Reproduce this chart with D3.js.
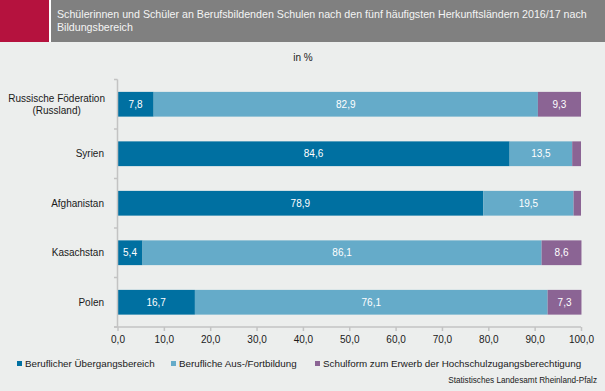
<!DOCTYPE html>
<html><head><meta charset="utf-8">
<script src="https://cdn.jsdelivr.net/npm/d3@7"></script>
<style>
html,body{margin:0;padding:0;background:#eceeed;}
svg{display:block;font-family:"Liberation Sans",Arial,sans-serif;}
</style></head>
<body>
<svg id="chart" width="605" height="391"></svg>
<script>
const categories = [["Russische Föderation","(Russland)"],["Syrien"],["Afghanistan"],["Kasachstan"],["Polen"]];
const categoryKeys = ["Russland","Syrien","Afghanistan","Kasachstan","Polen"];
const seriesNames = ["Beruflicher Übergangsbereich","Berufliche Aus-/Fortbildung","Schulform zum Erwerb der Hochschulzugangsberechtigung"];
const uebergang = [7.8, 84.6, 78.9, 5.4, 16.7];
const ausbildung = [82.9, 13.5, 19.5, 86.1, 76.1];
const hochschul = [9.3, 1.9, 1.6, 8.6, 7.3];
const showLabel = [[true,true,true],[true,true,false],[true,true,false],[true,true,true],[true,true,true]];
const xTicks = [0,10,20,30,40,50,60,70,80,90,100];
const colors = ["#0070a1","#65abc9","#8b6494"];
const titleLines = ["Schülerinnen und Schüler an Berufsbildenden Schulen nach den fünf häufigsten Herkunftsländern 2016/17 nach","Bildungsbereich"];
const unitLabel = "in %";
const sourceLabel = "Statistisches Landesamt Rheinland-Pfalz";

const svg = d3.select("#chart");
svg.append("rect").attr("width",605).attr("height",391).attr("fill","#eceeed");
// header
svg.append("rect").attr("x",0).attr("y",0).attr("width",605).attr("height",42).attr("fill","#808080");
svg.append("rect").attr("x",0).attr("y",0).attr("width",49).attr("height",42).attr("fill","#b5123e");
svg.append("rect").attr("x",49).attr("y",0).attr("width",2).attr("height",42).attr("fill","#ffffff");
const tNodes = titleLines.map((t,i)=>svg.append("text").attr("x",57).attr("y",18+i*12.5).attr("fill","#f4f4f4")
    .style("font-size","11.3px").text(t));
const w0 = tNodes[0].node().getComputedTextLength();
const fs = Math.min(11.3, 11.3 * 530 / w0);
tNodes.forEach(n=>n.style("font-size", fs+"px"));
svg.append("text").attr("x",303).attr("y",61).attr("text-anchor","middle")
  .attr("fill","#1a1a1a").style("font-size","10px").text(unitLabel);

const x = d3.scaleLinear().domain([0,100]).range([117.5,581]);
const y = d3.scaleBand().domain(categoryKeys).range([79.5,327]).paddingInner(0.5).paddingOuter(0.25);

const stackData = categoryKeys.map((k,i)=>({key:k, s0:uebergang[i], s1:ausbildung[i], s2:hochschul[i], idx:i}));
const stack = d3.stack().keys(["s0","s1","s2"]);
const series = stack(stackData);

const g = svg.append("g");
series.forEach((s,si)=>{
  g.selectAll(null).data(s).enter().append("rect")
    .attr("x",d=>x(d[0])).attr("width",d=>x(d[1])-x(d[0]))
    .attr("y",d=>y(d.data.key)).attr("height",y.bandwidth())
    .attr("fill",colors[si]);
  g.selectAll(null).data(s.filter(d=>showLabel[d.data.idx][si])).enter().append("text")
    .attr("x",d=>(x(d[0])+x(d[1]))/2).attr("y",d=>y(d.data.key)+y.bandwidth()/2+3.6)
    .attr("text-anchor","middle").attr("fill","#ffffff").style("font-size","10px")
    .text(d=>d3.format(".1f")(d[1]-d[0]).replace(".",","));
});

// y axis
const axisColor = "#c3c3c3";
const yStep = y.step();
svg.append("line").attr("x1",117.5).attr("x2",117.5).attr("y1",79.5).attr("y2",327).attr("stroke",axisColor).attr("stroke-width",1.5);
d3.range(categoryKeys.length+1).forEach(i=>{
  const yy = 79.5 + i*yStep;
  svg.append("line").attr("x1",114).attr("x2",117.5).attr("y1",yy).attr("y2",yy).attr("stroke",axisColor).attr("stroke-width",1.5);
});
// category labels
categories.forEach((lines,i)=>{
  const cy = y(categoryKeys[i]) + y.bandwidth()/2;
  if(lines.length===1){
    svg.append("text").attr("x",104).attr("y",cy+3.6).attr("text-anchor","end")
      .attr("fill","#1a1a1a").style("font-size","10px").text(lines[0]);
  } else {
    const tmp = lines.map((l,j)=>svg.append("text").attr("y",cy-5.75+3.6+j*11.5).attr("fill","#1a1a1a").style("font-size","10px").text(l));
    const w = Math.max(...tmp.map(t=>t.node().getComputedTextLength()));
    tmp.forEach(t=>t.attr("x",105-w/2).attr("text-anchor","middle"));
  }
});

// x axis
const xAxis = d3.axisBottom(x).tickValues(xTicks).tickSize(4).tickPadding(5)
  .tickFormat(d=>d3.format(".1f")(d).replace(".",","));
const xg = svg.append("g").attr("transform","translate(0,327)").call(xAxis);
xg.select(".domain").attr("stroke",axisColor).attr("stroke-width",1.5).attr("d","M114,0H581");
xg.selectAll(".tick line").attr("stroke",axisColor).attr("stroke-width",1.5);
xg.selectAll(".tick text").attr("fill","#1a1a1a").style("font-size","10px").style("font-family","'Liberation Sans',Arial,sans-serif");

// legend
const legendX = [17,171,315];
seriesNames.forEach((n,i)=>{
  svg.append("rect").attr("x",legendX[i]).attr("y",361).attr("width",5).attr("height",5).attr("fill",colors[i]);
  svg.append("text").attr("x",legendX[i]+8).attr("y",367).attr("fill","#1a1a1a").style("font-size","9.8px").text(n);
});
svg.append("text").attr("x",597).attr("y",383).attr("text-anchor","end").attr("fill","#1a1a1a").style("font-size","8.2px").text(sourceLabel);
</script>
</body></html>
